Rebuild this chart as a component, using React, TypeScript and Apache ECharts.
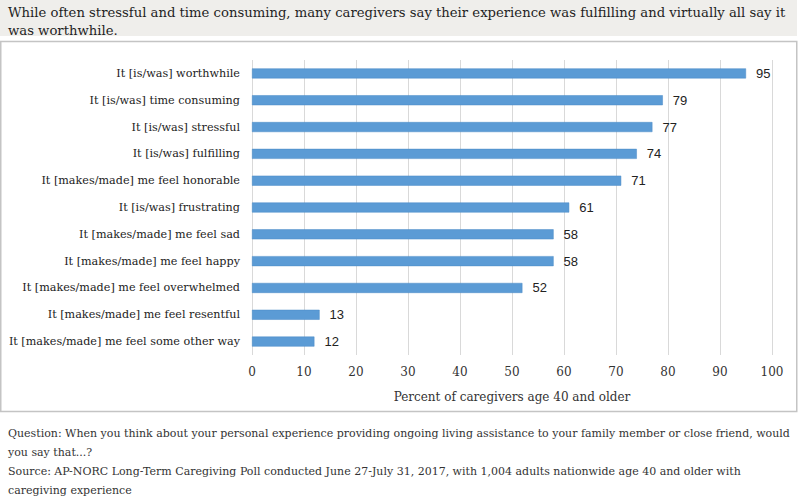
import React, { useEffect, useRef } from "react";
import * as echarts from "echarts";

const categories = [
  "It [is/was] worthwhile",
  "It [is/was] time consuming",
  "It [is/was] stressful",
  "It [is/was] fulfilling",
  "It [makes/made] me feel honorable",
  "It [is/was] frustrating",
  "It [makes/made] me feel sad",
  "It [makes/made] me feel happy",
  "It [makes/made] me feel overwhelmed",
  "It [makes/made] me feel resentful",
  "It [makes/made] me feel some other way",
];
const values = [95, 79, 77, 74, 71, 61, 58, 58, 52, 13, 12];

const titleLines = [
  "While often stressful and time consuming, many caregivers say their experience was fulfilling and virtually all say it",
  "was worthwhile.",
];
const footerLines = [
  "Question: When you think about your personal experience providing ongoing living assistance to your family member or close friend, would",
  "you say that...?",
  "Source: AP-NORC Long-Term Caregiving Poll conducted June 27-July 31, 2017, with 1,004 adults nationwide age 40 and older with",
  "caregiving experience",
];
const axisName = "Percent of caregivers age 40 and older";

const SERIF = "'DejaVu Serif', serif";

export default function App() {
  const ref = useRef<HTMLDivElement>(null);
  useEffect(() => {
    document.body.style.margin = "0";
    const chart = echarts.init(ref.current!, null, { renderer: "svg" });
    const graphics: any[] = [
      {
        type: "rect",
        shape: { x: 0, y: 0, width: 797, height: 36 },
        style: { fill: "#efeeeb" },
        z: -10,
      },
      {
        type: "rect",
        shape: { x: 0.75, y: 41.5, width: 796, height: 370 },
        style: { fill: "none", stroke: "#c4c4c4", lineWidth: 1.5 },
        z: -10,
      },
    ];
    titleLines.forEach((t, i) => {
      graphics.push({
        type: "text",
        x: 8,
        y: 12 + i * 18,
        style: {
          text: t,
          fill: "#1f1f1f",
          font: `13.2px ${SERIF}`,
          verticalAlign: "middle",
        },
      });
    });
    footerLines.forEach((t, i) => {
      graphics.push({
        type: "text",
        x: 8,
        y: 433 + i * 19,
        style: {
          text: t,
          fill: "#333",
          font: `11px ${SERIF}`,
          verticalAlign: "middle",
        },
      });
    });
    chart.setOption({
      animation: false,
      grid: { left: 252, right: 28, top: 60, bottom: 142, containLabel: false },
      xAxis: {
        type: "value",
        min: 0,
        max: 100,
        interval: 10,
        axisLine: { show: false },
        axisTick: { show: false },
        splitLine: { lineStyle: { color: "#d9d9d9", width: 1 } },
        axisLabel: { color: "#333", fontFamily: SERIF, fontSize: 12, margin: 11 },
        name: axisName,
        nameLocation: "middle",
        nameGap: 36,
        nameTextStyle: { color: "#333", fontFamily: SERIF, fontSize: 12 },
      },
      yAxis: {
        type: "category",
        inverse: true,
        data: categories,
        axisLine: { show: false },
        axisTick: { show: false },
        axisLabel: { color: "#222", fontFamily: SERIF, fontSize: 11.2, margin: 12 },
      },
      series: [
        {
          type: "bar",
          data: values,
          barWidth: 10,
          itemStyle: { color: "#5b9bd5", borderColor: "#4a8ac6", borderWidth: 0.5 },
          label: {
            show: true,
            position: "right",
            distance: 10,
            color: "#222",
            fontFamily: "'Liberation Sans', sans-serif",
            fontSize: 13,
          },
        },
      ],
      graphic: graphics,
    });
    return () => chart.dispose();
  }, []);
  return <div ref={ref} style={{ width: 800, height: 497 }} />;
}
